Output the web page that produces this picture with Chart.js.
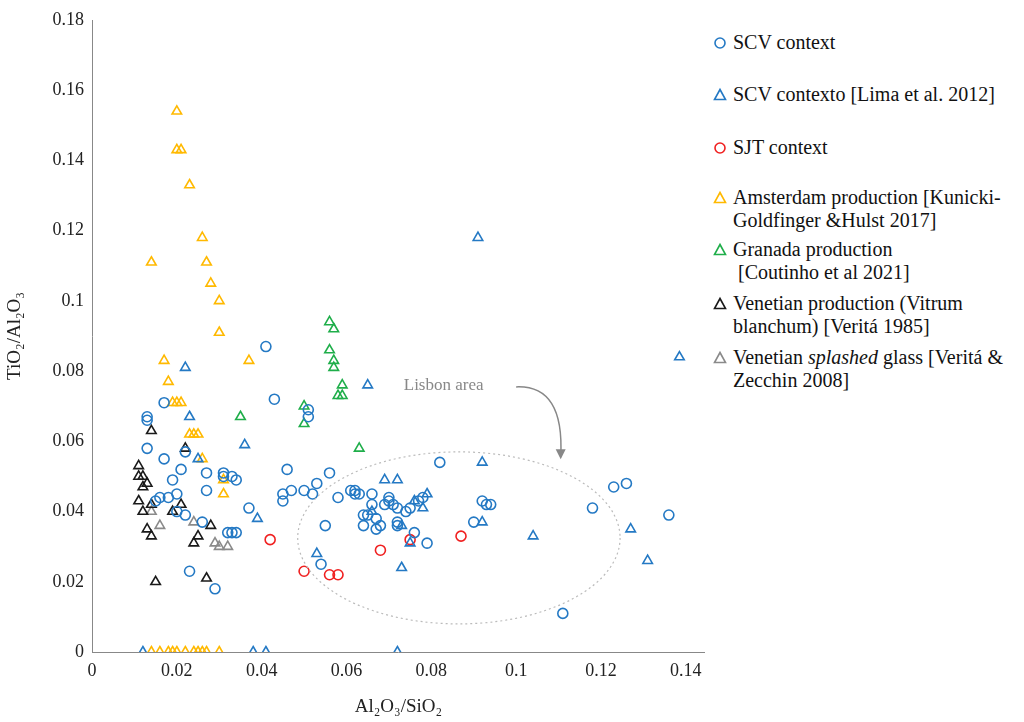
<!DOCTYPE html>
<html><head><meta charset="utf-8">
<script src="https://cdn.jsdelivr.net/npm/chart.js@4"></script>
<style>
body{margin:0;background:#fff;font-family:'Liberation Serif',serif;}
#wrap{position:absolute;left:0;top:0;width:712px;height:722px;}
.leg{position:absolute;left:712px;font-size:20px;color:#111;line-height:23px;white-space:nowrap;}
.leg canvas{position:absolute;left:0;top:4px;}
.leg span{display:block;padding-left:21px;}
</style></head><body>
<div id="wrap"><canvas id="c"></canvas></div>
<div id="legend"></div>
<script>
// SCV context (circles)
const scvX=[0.013,0.013,0.013,0.017,0.015,0.016,0.018,0.017,0.019,0.020,0.021,0.022,0.022,0.023,0.020,0.026,0.027,0.027,0.029,0.031,0.031,0.032,0.033,0.034,0.034,0.033,0.037,0.041,0.043,0.045,0.045,0.046,0.047,0.050,0.051,0.051,0.052,0.053,0.054,0.055,0.056,0.058,0.061,0.062,0.062,0.063,0.064,0.064,0.065,0.066,0.066,0.067,0.067,0.068,0.069,0.070,0.070,0.071,0.072,0.072,0.072,0.074,0.075,0.076,0.077,0.078,0.079,0.082,0.090,0.092,0.093,0.094,0.111,0.118,0.123,0.126,0.136];
const scvY=[0.067,0.066,0.058,0.071,0.043,0.044,0.044,0.055,0.049,0.045,0.052,0.039,0.057,0.023,0.040,0.037,0.051,0.046,0.018,0.051,0.050,0.034,0.034,0.034,0.049,0.050,0.041,0.087,0.072,0.045,0.043,0.052,0.046,0.046,0.069,0.067,0.045,0.048,0.025,0.036,0.051,0.044,0.046,0.046,0.045,0.045,0.036,0.039,0.039,0.045,0.042,0.038,0.035,0.036,0.042,0.044,0.043,0.042,0.041,0.037,0.036,0.040,0.041,0.034,0.043,0.044,0.031,0.054,0.037,0.043,0.042,0.042,0.011,0.041,0.047,0.048,0.039];
// SCV contexto [Lima et al. 2012] (triangles)
const limaX=[0.012,0.022,0.023,0.025,0.036,0.039,0.038,0.041,0.053,0.065,0.069,0.072,0.072,0.073,0.075,0.076,0.078,0.079,0.091,0.092,0.092,0.104,0.127,0.131,0.1385,0.066,0.073];
const limaY=[0,0.081,0.067,0.055,0.059,0.038,0,0,0.028,0.076,0.049,0.049,0,0.024,0.031,0.043,0.041,0.045,0.118,0.037,0.054,0.033,0.035,0.026,0.084,0.040,0.036];
// SJT context
const sjtX=[0.042,0.050,0.056,0.058,0.068,0.075,0.087];
const sjtY=[0.032,0.023,0.022,0.022,0.029,0.032,0.033];
// Amsterdam production
const amsX=[0.020,0.020,0.021,0.023,0.026,0.014,0.027,0.028,0.030,0.030,0.017,0.037,0.018,0.019,0.020,0.021,0.023,0.024,0.025,0.026,0.031,0.031,0.014,0.016,0.018,0.019,0.020,0.022,0.024,0.025,0.026,0.027,0.030];
const amsY=[0.154,0.143,0.143,0.133,0.118,0.111,0.111,0.105,0.100,0.091,0.083,0.083,0.077,0.071,0.071,0.071,0.062,0.062,0.062,0.055,0.049,0.045,0,0,0,0,0,0,0,0,0,0,0];
// Granada production
const graX=[0.035,0.050,0.050,0.056,0.056,0.057,0.057,0.057,0.058,0.059,0.059,0.063];
const graY=[0.067,0.070,0.065,0.086,0.094,0.092,0.083,0.081,0.073,0.073,0.076,0.058];
// Venetian production (Vitrum blanchum)
const venX=[0.011,0.011,0.012,0.012,0.011,0.012,0.013,0.014,0.014,0.015,0.014,0.022,0.019,0.021,0.024,0.025,0.027,0.028,0.013];
const venY=[0.053,0.050,0.050,0.047,0.043,0.040,0.035,0.033,0.063,0.020,0.042,0.058,0.040,0.042,0.031,0.033,0.021,0.036,0.048];
// Venetian splashed glass
const splX=[0.014,0.016,0.024,0.029,0.030,0.032];
const splY=[0.040,0.036,0.037,0.031,0.030,0.030];

const xTicks=[0,0.02,0.04,0.06,0.08,0.1,0.12,0.14];
const yTicks=[0,0.02,0.04,0.06,0.08,0.1,0.12,0.14,0.16,0.18];

const series=[
  {label:'SCV context',x:scvX,y:scvY,color:'#2479c4',style:'circle'},
  {label:'SCV contexto  [Lima et al. 2012]',x:limaX,y:limaY,color:'#2479c4',style:'triangle'},
  {label:' SJT context',x:sjtX,y:sjtY,color:'#f02020',style:'circle'},
  {label:'Amsterdam production [Kunicki-<br>Goldfinger &amp;Hulst 2017]',x:amsX,y:amsY,color:'#ffb900',style:'triangle'},
  {label:'Granada production<br>&nbsp;[Coutinho et al 2021]',x:graX,y:graY,color:'#1fae4a',style:'triangle'},
  {label:'Venetian production (Vitrum<br>blanchum) [Veritá 1985]',x:venX,y:venY,color:'#1a1a1a',style:'triangle'},
  {label:'Venetian <i>splashed</i> glass [Veritá &amp;<br>Zecchin 2008]',x:splX,y:splY,color:'#8a8a8a',style:'triangle'}
];
const legTops=[31,83,136,186,238,292,346];

const font={family:"'Liberation Serif', serif",size:18};
const lisbon={
  id:'lisbon',
  afterDatasetsDraw(ch){
    const {ctx,scales:{x,y}}=ch;
    const cx=x.getPixelForValue(0.0865), cy=y.getPixelForValue(0.0325);
    const rx=x.getPixelForValue(0.1245)-cx, ry=cy-y.getPixelForValue(0.057);
    ctx.save();
    ctx.strokeStyle='#bbb';ctx.lineWidth=1.2;ctx.setLineDash([2,3]);
    ctx.beginPath();ctx.ellipse(cx,cy,rx,ry,0,0,Math.PI*2);ctx.stroke();
    ctx.setLineDash([]);
    ctx.font="17px 'Liberation Serif', serif";ctx.fillStyle='#888';
    ctx.fillText('Lisbon area',x.getPixelForValue(0.0735),y.getPixelForValue(0.0745));
    const sx=x.getPixelForValue(0.1), sy=y.getPixelForValue(0.0755);
    const ex=x.getPixelForValue(0.1105), ey=y.getPixelForValue(0.0555);
    ctx.strokeStyle='#888';ctx.lineWidth=1.5;
    ctx.beginPath();ctx.moveTo(sx,sy);ctx.quadraticCurveTo(ex+4,sy-2,ex,ey);ctx.stroke();
    ctx.fillStyle='#888';ctx.beginPath();
    ctx.moveTo(ex,ey+2);ctx.lineTo(ex-5,ey-8);ctx.lineTo(ex+5,ey-8);ctx.closePath();ctx.fill();
    ctx.restore();
  }
};

new Chart(document.getElementById('c'),{
  type:'scatter',
  data:{datasets:series.map(s=>({label:s.label,data:s.x.map((v,i)=>({x:v,y:s.y[i]})),
    pointStyle:s.style,pointRadius:s.style==='circle'?5:5.5,borderColor:s.color,backgroundColor:'rgba(0,0,0,0)',borderWidth:1.6}))},
  options:{responsive:true,maintainAspectRatio:false,animation:false,
    layout:{padding:{top:20,right:0}},
    plugins:{legend:{display:false},tooltip:{enabled:false}},
    scales:{
      x:{min:0,max:0.1445,afterBuildTicks:a=>{a.ticks=xTicks.map(v=>({value:v}));},
        afterFit:a=>{a.height=70;},
        grid:{display:false,drawTicks:true,tickLength:5,tickColor:'#888'},border:{color:'#888'},
        ticks:{font,color:'#222',callback:v=>String(+v.toFixed(2))},
        title:{display:true,text:'Al₂O₃/SiO₂',font:{family:font.family,size:19},color:'#222',padding:{top:2}}},
      y:{min:0,max:0.18,afterBuildTicks:a=>{a.ticks=yTicks.map(v=>({value:v}));},
        afterFit:a=>{a.width=92;},
        grid:{display:false,tickLength:5,tickColor:'#888'},border:{color:'#888'},
        ticks:{font,color:'#222',callback:v=>String(+v.toFixed(2))},
        title:{display:true,text:'TiO₂/Al₂O₃',font:{family:font.family,size:19},color:'#222',padding:{bottom:2}}}
    }},
  plugins:[lisbon]
});

// legend
const lg=document.getElementById('legend');
series.forEach((s,i)=>{
  const d=document.createElement('div');d.className='leg';d.style.top=legTops[i]+'px';
  const c=document.createElement('canvas');c.width=16;c.height=16;
  const g=c.getContext('2d');g.strokeStyle=s.color;g.lineWidth=1.6;g.beginPath();
  if(s.style==='circle')g.arc(8,8,5,0,Math.PI*2);else{g.moveTo(8,2.5);g.lineTo(13.5,12.5);g.lineTo(2.5,12.5);g.closePath();}
  g.stroke();
  const t=document.createElement('span');t.innerHTML=s.label;
  d.appendChild(c);d.appendChild(t);lg.appendChild(d);
});
</script></body></html>
